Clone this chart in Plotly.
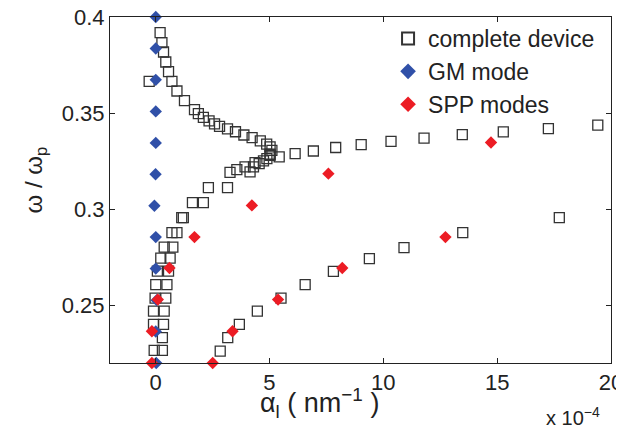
import plotly.graph_objects as go

# alpha_l in units of 1e-4 nm^-1, omega / omega_p
device_alpha = [0.20, 0.28, 0.35, 0.45, 0.57, 0.72, -0.28, 0.94, 1.27, 1.71, 1.88, 2.10,
                2.35, 2.59, 2.81, 3.16, 3.51, 3.88, 4.24, 4.60, 4.88, 5.03, 5.11, 5.03,
                5.43, 6.13, 6.93, 7.91, 9.03, 10.34, 11.79, 13.47, 15.27, 17.25, 19.42,
                5.03, 4.89, 4.74, 4.55, 4.37, 4.30, 4.15, 3.93, 3.57, 3.27, 2.32, 3.16,
                1.62, 2.10, 1.15, 1.22, 0.72, 0.94, 0.38, 0.76, 0.23, 0.64, 0.08, 0.57,
                0.01, 0.50, -0.02, 0.45, -0.09, 0.38, -0.09, 0.35, 0.30, -0.06, 0.30,
                2.84, 3.17, 3.68, 4.47, 5.51, 6.57, 7.81, 9.39, 10.91, 13.49, 17.73]
device_omega = [0.3919, 0.3867, 0.3818, 0.3766, 0.3716, 0.3665, 0.3665, 0.3615, 0.3565, 0.3518, 0.3497, 0.3478,
                0.3460, 0.3444, 0.3431, 0.3418, 0.3403, 0.3386, 0.3372, 0.3356, 0.3339, 0.3324, 0.3306, 0.3286,
                0.3272, 0.3289, 0.3303, 0.3321, 0.3336, 0.3353, 0.3370, 0.3388, 0.3402, 0.3419, 0.3437,
                0.3280, 0.3263, 0.3251, 0.3237, 0.3242, 0.3220, 0.3194, 0.3220, 0.3206, 0.3192, 0.3112, 0.3112,
                0.3034, 0.3034, 0.2956, 0.2956, 0.2878, 0.2878, 0.2803, 0.2803, 0.2746, 0.2746, 0.2678, 0.2678,
                0.2608, 0.2608, 0.2538, 0.2538, 0.2470, 0.2470, 0.2401, 0.2401, 0.2332, 0.2266, 0.2266,
                0.2262, 0.2332, 0.2401, 0.2470, 0.2538, 0.2608, 0.2677, 0.2743, 0.2800, 0.2878, 0.2956]

gm_alpha = [0.01, 0.01, 0.01, 0.01, 0.01, 0.0, -0.05, 0.01, 0.01, 0.05, 0.01, 0.03]
gm_omega = [0.4, 0.3836, 0.3673, 0.3509, 0.3345, 0.3182, 0.3018, 0.2855, 0.2691, 0.2527, 0.2364, 0.2200]

spp_alpha = [-0.16, -0.16, 0.10, 0.61, 1.71, 4.23, 7.59, 14.73,
             2.51, 3.38, 5.38, 8.20, 12.73]
spp_omega = [0.2200, 0.2365, 0.2530, 0.2694, 0.2855, 0.3020, 0.3185, 0.3347,
             0.2200, 0.2365, 0.2530, 0.2694, 0.2855]

font = 'Liberation Sans, Arial, sans-serif'
ink = '#222222'

fig = go.Figure()

fig.add_trace(go.Scatter(
    x=device_alpha, y=device_omega, mode='markers', name='complete device',
    marker=dict(symbol='square-open', size=10, color='#333333', line=dict(width=1.3)),
    cliponaxis=False
))
fig.add_trace(go.Scatter(
    x=gm_alpha, y=gm_omega, mode='markers', name='GM mode',
    marker=dict(symbol='diamond', size=9.5, color='#3050a8', line=dict(width=0)),
    cliponaxis=False
))
fig.add_trace(go.Scatter(
    x=spp_alpha, y=spp_omega, mode='markers', name='SPP modes',
    marker=dict(symbol='diamond', size=9.5, color='#ec1c24', line=dict(width=0)),
    cliponaxis=False
))

axis_style = dict(showline=True, linecolor=ink, linewidth=1, mirror='ticks',
                  ticks='inside', ticklen=5, tickcolor=ink, showgrid=False,
                  zeroline=False, ticklabeloverflow='allow', automargin=False,
                  tickfont=dict(family=font, size=22, color=ink))

fig.update_xaxes(range=[-2, 20], tickvals=[0, 5, 10, 15, 20], **axis_style)
fig.update_yaxes(range=[0.22, 0.4], tickvals=[0.25, 0.3, 0.35, 0.4],
                 ticktext=['0.25', '0.3', '0.35', '0.4'], **axis_style)

# axis titles as annotations so they can sit where the original puts them
fig.add_annotation(text='ω / ω<sub>p</sub>', xref='paper', yref='paper',
                   x=-0.148, y=0.53, xanchor='center', yanchor='middle', textangle=-90,
                   showarrow=False, font=dict(family=font, size=24, color=ink))
fig.add_annotation(text='α<sub>l</sub>\u00a0( nm<sup>−1</sup>\u00a0)', xref='paper', yref='paper',
                   x=0.419, y=-0.116, xanchor='center', yanchor='middle', showarrow=False,
                   font=dict(family=font, size=27, color=ink))
fig.add_annotation(text='x 10<sup>−4</sup>', xref='paper', yref='paper',
                   x=0.982, y=-0.155, xanchor='right', yanchor='middle', showarrow=False,
                   font=dict(family=font, size=20, color=ink))

# the page body adds an 8 px margin at the top left, so the figure is 8 px smaller than the window
fig.update_layout(
    width=616, height=422,
    margin=dict(l=102, r=13, t=9, b=67),
    plot_bgcolor='white', paper_bgcolor='white',
    font=dict(family=font, color=ink),
    legend=dict(x=0.555, y=1.0, xanchor='left', yanchor='top',
                bgcolor='rgba(255,255,255,0)', font=dict(family=font, size=23, color=ink),
                itemsizing='constant', tracegroupgap=0),
)

fig.write_html("out.html")
